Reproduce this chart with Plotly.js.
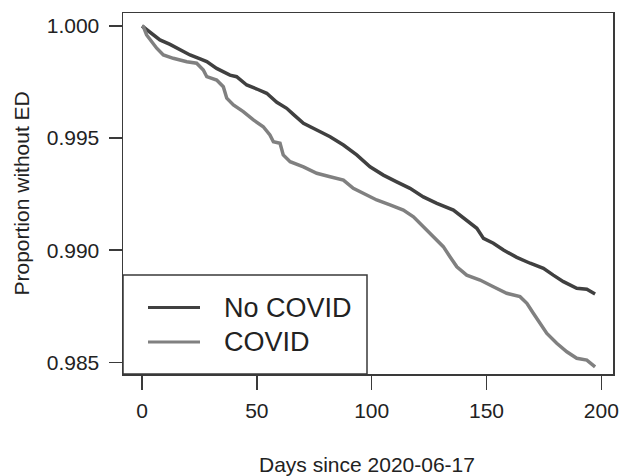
<!DOCTYPE html>
<html>
<head>
<meta charset="utf-8">
<script src="https://cdn.plot.ly/plotly-3.0.1.min.js"></script>
<style>html,body{margin:0;padding:0;background:#fff;}#chart{width:619px;height:476px;}</style>
</head>
<body>
<div id="chart"></div>
<script>
// Kaplan-Meier style curves
var noCovidDays = [0, 3.5, 7.8, 12.2, 16.6, 20.9, 25.3, 28.2, 32.5, 38.3, 41.2, 45.6, 50.0, 54.3, 58.7, 63.0, 65.9, 70.3, 76.1, 81.9, 87.7, 93.5, 99.3, 105.1, 110.9, 116.7, 122.5, 128.4, 135.6, 141.4, 145.8, 148.7, 153.0, 157.4, 163.2, 169.0, 174.8, 179.1, 183.5, 189.3, 193.7, 197.3];
var noCovidSurv = [1.0000, 0.99972, 0.99938, 0.99918, 0.99893, 0.99871, 0.99853, 0.99841, 0.99811, 0.99781, 0.99774, 0.99737, 0.99719, 0.99700, 0.99660, 0.99633, 0.99606, 0.99566, 0.99536, 0.99506, 0.99469, 0.99425, 0.99372, 0.99335, 0.99305, 0.99276, 0.99238, 0.99209, 0.99179, 0.99135, 0.99098, 0.99053, 0.99031, 0.99001, 0.98968, 0.98942, 0.98919, 0.98889, 0.98860, 0.98830, 0.98826, 0.98805];

var covidDays = [0, 0.6, 2.0, 6.4, 9.3, 13.6, 19.5, 23.8, 26.7, 28.2, 32.5, 35.4, 36.9, 39.8, 44.1, 48.5, 52.8, 55.7, 57.2, 60.1, 61.5, 64.5, 70.3, 76.1, 81.9, 87.7, 92.0, 96.4, 102.2, 108.0, 113.8, 118.2, 122.5, 126.9, 131.2, 134.1, 137.1, 141.4, 147.2, 153.0, 158.8, 164.6, 167.6, 170.4, 173.3, 176.3, 180.6, 185.0, 189.3, 193.7, 197.3];
var covidSurv = [1.0000, 0.99997, 0.99960, 0.99901, 0.99871, 0.99856, 0.99841, 0.99834, 0.99804, 0.99774, 0.99759, 0.99729, 0.99678, 0.99648, 0.99618, 0.99581, 0.99551, 0.99514, 0.99484, 0.99477, 0.99425, 0.99395, 0.99372, 0.99343, 0.99328, 0.99313, 0.99276, 0.99254, 0.99224, 0.99202, 0.99179, 0.99149, 0.99105, 0.99060, 0.99016, 0.98971, 0.98926, 0.98889, 0.98867, 0.98837, 0.98808, 0.98793, 0.98763, 0.98719, 0.98674, 0.98629, 0.98585, 0.98547, 0.98518, 0.98510, 0.98480];

var seriesNames = ["No COVID", "COVID"];
var seriesColors = ["#404040", "#808080"];

var xTickVals = [0, 50, 100, 150, 200];
var xTickText = ["0", "50", "100", "150", "200"];
var yTickVals = [0.985, 0.990, 0.995, 1.000];
var yTickText = ["0.985", "0.990", "0.995", "1.000"];

var xTitle = "Days since 2020-06-17";
var yTitle = "Proportion without ED";

var FONT = "Liberation Sans, Arial, Helvetica, sans-serif";
var AX = "#3a3a3a";

var traces = [
  {x: noCovidDays, y: noCovidSurv, name: seriesNames[0], type: "scatter", mode: "lines",
   line: {color: seriesColors[0], width: 3.5, shape: "linear"}, showlegend: false},
  {x: covidDays, y: covidSurv, name: seriesNames[1], type: "scatter", mode: "lines",
   line: {color: seriesColors[1], width: 3.5, shape: "linear"}, showlegend: false}
];

var legX0 = 0, legX1 = (367 - 123) / 490, legY0 = 0, legY1 = (374 - 275) / 361;
var legRowY = [(374 - 307.5) / 361, (374 - 342) / 361];
var legLineX = [(148 - 123) / 490, (200 - 123) / 490];
var legTextX = (222 - 123) / 490;

var shapes = [
  {type: "rect", xref: "paper", yref: "paper", x0: legX0, x1: legX1, y0: legY0, y1: legY1,
   line: {color: AX, width: 1.5}, fillcolor: "rgba(255,255,255,0)", layer: "above"}
];
var annotations = [
  {xref: "paper", yref: "paper", x: 0.498, y: -0.252, text: xTitle, showarrow: false,
   xanchor: "center", yanchor: "middle", font: {family: FONT, size: 21, color: "#222"}},
  {xref: "paper", yref: "paper", x: (21 - 123) / 490, y: 0.5, text: yTitle, showarrow: false,
   textangle: -90, xanchor: "center", yanchor: "middle", font: {family: FONT, size: 21, color: "#222"}}
];
for (var i = 0; i < seriesNames.length; i++) {
  shapes.push({type: "line", xref: "paper", yref: "paper", x0: legLineX[0], x1: legLineX[1],
    y0: legRowY[i], y1: legRowY[i], line: {color: seriesColors[i], width: 3}});
  annotations.push({xref: "paper", yref: "paper", x: legTextX, y: legRowY[i], text: seriesNames[i],
    showarrow: false, xanchor: "left", yanchor: "middle", font: {family: FONT, size: 27, color: "#222"}});
}

var layout = {
  width: 619, height: 476,
  margin: {l: 123, r: 6, t: 13, b: 102, pad: 0},
  paper_bgcolor: "#fff", plot_bgcolor: "#fff",
  showlegend: false,
  xaxis: {range: [-8.28, 205.1], tickvals: xTickVals, ticktext: xTickText, ticks: "outside",
    ticklen: 14, tickwidth: 1.5, tickcolor: AX, showline: true, linecolor: AX, linewidth: 1.5,
    mirror: true, showgrid: false, zeroline: false, ticklabelstandoff: 3,
    tickfont: {family: FONT, size: 21, color: "#222"}},
  yaxis: {range: [0.98448, 1.00058], tickvals: yTickVals, ticktext: yTickText, ticks: "outside",
    ticklen: 13, tickwidth: 1.5, tickcolor: AX, showline: true, linecolor: AX, linewidth: 1.5,
    mirror: true, showgrid: false, zeroline: false, ticklabelstandoff: 5,
    tickfont: {family: FONT, size: 21, color: "#222"}},
  shapes: shapes,
  annotations: annotations
};

Plotly.newPlot("chart", traces, layout, {staticPlot: true, displayModeBar: false});
</script>
</body>
</html>
